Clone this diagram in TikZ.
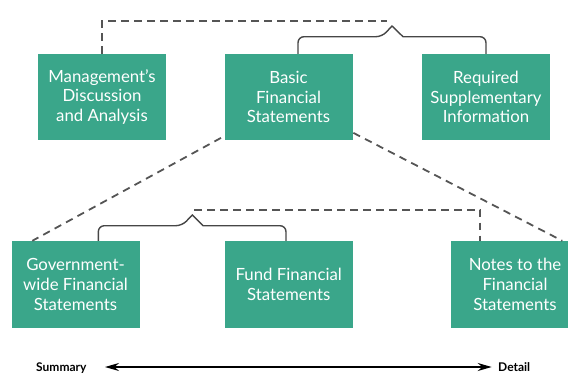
\documentclass[tikz,border=0pt]{standalone}
\usepackage{fontspec}
\setmainfont{Lato}
\usetikzlibrary{arrows.meta,calc}
\definecolor{boxgreen}{RGB}{58,166,138}
\definecolor{dashgray}{RGB}{85,85,85}
\definecolor{brackgray}{RGB}{70,70,70}
\begin{document}
\begin{tikzpicture}[x=1pt,y=-1pt,
  fsbox/.style={fill=boxgreen,draw=none,minimum width=128pt,minimum height=86pt,
    inner sep=0pt,text=white,align=center,font=\fontsize{16.8}{19.8}\selectfont},
  dashline/.style={draw=dashgray,line width=1.8pt,dash pattern=on 7.5pt off 5.5pt},
  brackline/.style={draw=brackgray,line width=1.4pt,rounded corners=6pt},
  scaletext/.style={font=\bfseries\fontsize{12}{14}\selectfont,anchor=base west,inner sep=0pt}]
\useasboundingbox (0,0) rectangle (568,375);
% top row
\node[fsbox] (mda) at (102,97) {Management’s\\Discussion\\and Analysis};
\node[fsbox] (bfs) at (288.5,97) {Basic\\Financial\\Statements};
\node[fsbox] (rsi) at (486,97) {Required\\Supplementary\\Information};
% bottom row
\node[fsbox,minimum height=87pt] (gw) at (75.5,284.5) {Government-\\wide Financial\\Statements};
\node[fsbox,minimum height=87pt] (ffs) at (288.75,284.5) {Fund Financial\\Statements};
\node[fsbox,minimum height=87pt] (notes) at (515,284.5) {Notes to the\\Financial\\Statements};
% top bracket and dashed line
\coordinate (peakA) at (392,26);
\coordinate (dashA) at (387,21);
\draw[dashline] (mda.north) |- (dashA);
\draw[brackline] ($(bfs.north)+(9.5,0)$) -- (298,36.7) -- (382,36.7) [sharp corners] -- (peakA) -- (403,36.7) [rounded corners=6pt] -- (486,36.7) -- (rsi.north);
% bottom bracket and dashed line
\coordinate (peakB) at (192.3,215);
\coordinate (dashB) at (194,210);
\draw[dashline] (dashB) -| ($(notes.north west)+(29.5,0)$);
\draw[brackline] ($(gw.north)+(22.8,0)$) -- (98.3,225.7) -- (182,225.7) [sharp corners] -- (peakB) -- (203,225.7) [rounded corners=6pt] -- (286,225.7) -- ($(ffs.north)+(-2.75,0)$);
% diagonals
\draw[dashline] ($(bfs.south west)+(-3.3,-2.3)$) -- ($(gw.north west)+(21,0)$);
\draw[dashline] ($(bfs.south east)+(0.7,-7.3)$) -- ($(notes.north west)+(111.5,0)$);
% scale arrow
\node[scaletext] (sum) at (36,371.5) {Summary};
\node[scaletext] (det) at (498,371.5) {Detail};
\coordinate (arrL) at (105,367);
\coordinate (arrR) at (491.7,367);
\draw[line width=1.3pt,{Stealth[length=14pt,width=8pt]}-{Stealth[length=14pt,width=8pt]}] (arrL) -- (arrR);
\end{tikzpicture}
\end{document}
